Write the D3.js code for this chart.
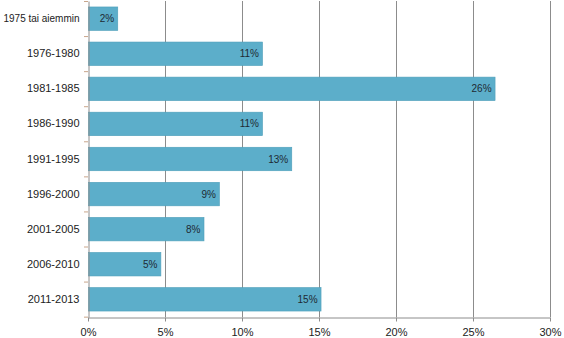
<!DOCTYPE html>
<html>
<head>
<meta charset="utf-8">
<script src="https://cdn.jsdelivr.net/npm/d3@7"></script>
<style>
  html, body { margin: 0; padding: 0; background: #fff; }
  svg { display: block; font-family: "Liberation Sans", Arial, sans-serif; }
</style>
</head>
<body>
<svg id="chart" width="564" height="338"></svg>
<script>
// Construction period of the dwellings (share, %)
const categories = ["1975 tai aiemmin", "1976-1980", "1981-1985", "1986-1990", "1991-1995",
                    "1996-2000", "2001-2005", "2006-2010", "2011-2013"];
const shares = [1.9, 11.3, 26.4, 11.3, 13.2, 8.5, 7.5, 4.7, 15.1];
const xTicks = [0, 5, 10, 15, 20, 25, 30];

(function () {
  const svg = d3.select("#chart");
  const plotLeft = 88, plotRight = 550, plotTop = 1, plotBottom = 317;

  const x = d3.scaleLinear().domain([0, 30]).range([plotLeft, plotRight]);
  const y = d3.scaleBand().domain(categories).range([plotTop, plotBottom])
    .paddingInner(0.33).paddingOuter(0.17);

  // vertical gridlines
  svg.append("g").selectAll("line").data(xTicks.slice(1)).join("line")
    .attr("x1", d => x(d) + 0.5).attr("x2", d => x(d) + 0.5)
    .attr("y1", plotTop).attr("y2", plotBottom)
    .attr("stroke", "#8c8c8c").attr("stroke-width", 1);

  // bars
  svg.append("g").selectAll("rect").data(shares).join("rect")
    .attr("x", x(0) + 0.5)
    .attr("y", (d, i) => y(categories[i]))
    .attr("width", d => x(d) - x(0))
    .attr("height", y.bandwidth())
    .attr("fill", "#5caeca")
    .attr("stroke", "#4f9fba").attr("stroke-width", 0.6);

  // value labels
  svg.append("g").selectAll("text").data(shares).join("text")
    .attr("x", d => x(d) - 3)
    .attr("y", (d, i) => y(categories[i]) + y.bandwidth() / 2)
    .attr("dy", "0.35em")
    .attr("text-anchor", "end")
    .attr("font-size", 10)
    .attr("fill", "#1e2a33")
    .text(d => Math.round(d) + "%");

  // x axis
  const xAxis = svg.append("g").attr("transform", `translate(0,${plotBottom + 0.5})`)
    .call(d3.axisBottom(x).tickValues(xTicks).tickFormat(d => d + "%").tickSize(4).tickSizeOuter(0));
  xAxis.select(".domain").attr("stroke", "#8c8c8c");
  xAxis.selectAll(".tick line").attr("stroke", "#8c8c8c");
  xAxis.selectAll(".tick text").attr("font-size", 11).attr("fill", "#222").attr("dy", "1.05em")
    .attr("font-family", "Liberation Sans, Arial, sans-serif");

  // y axis
  const yAxis = svg.append("g").attr("transform", `translate(${plotLeft + 0.5},0)`)
    .call(d3.axisLeft(y).tickSize(0).tickPadding(9));
  yAxis.select(".domain").attr("stroke", "#8c8c8c");
  const maxLabel = plotLeft - 12;
  yAxis.selectAll(".tick text").attr("font-size", 11).attr("fill", "#222")
    .attr("font-family", "Liberation Sans, Arial, sans-serif")
    .each(function () {
      // keep long category names inside the left margin
      const w = this.getComputedTextLength();
      if (w > maxLabel) {
        d3.select(this).attr("textLength", maxLabel).attr("lengthAdjust", "spacingAndGlyphs");
      }
    });

  // small marks between categories on the y axis
  const step = y.step();
  const bounds = d3.range(categories.length + 1).map(i => plotTop + i * step);
  svg.append("g").selectAll("line").data(bounds).join("line")
    .attr("x1", plotLeft - 4).attr("x2", plotLeft)
    .attr("y1", d => d + 0.5).attr("y2", d => d + 0.5)
    .attr("stroke", "#c9a58a").attr("stroke-width", 1);
})();
</script>
</body>
</html>
